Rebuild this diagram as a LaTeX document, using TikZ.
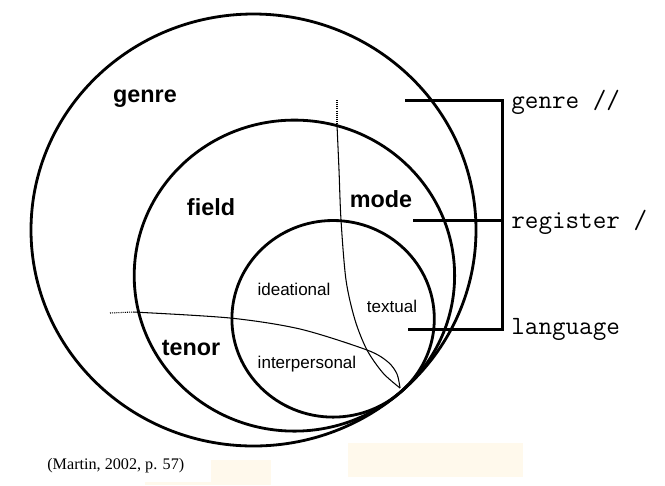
\documentclass[tikz,border=0pt]{standalone}
\usepackage{fontspec}
\setmainfont{Liberation Sans}
\newfontfamily\citefont{Liberation Serif}
\definecolor{cream}{HTML}{FFF9EC}
\tikzset{
  ring/.style={line width=1.6pt},
  divider/.style={line width=0.6pt},
  lead/.style={line width=0.6pt, dash pattern=on 0.6pt off 0.6pt},
  bracket/.style={line width=1.7pt},
  biglabel/.style={font=\fontsize{13.3}{15}\selectfont\bfseries, anchor=base, inner sep=0pt},
  smalllabel/.style={font=\fontsize{9.7}{11}\selectfont, anchor=base, inner sep=0pt},
  stratum/.style={font=\fontsize{15}{17}\selectfont\ttfamily, anchor=base west, inner sep=0pt},
}

\begin{document}
\begin{tikzpicture}[x=0.02cm, y=-0.02cm]
        \useasboundingbox (0,0) rectangle (665,485);
        % pale patches along the bottom edge
        \fill[cream] (348,443) rectangle (523,477);
        \fill[cream] (211,460) rectangle (271,485);
        \fill[cream] (145,482) rectangle (211,485);

        % genre, register, language
        \draw[ring] (253.5,230) ellipse [x radius=222.5, y radius=216];
        \draw[ring] (294.4,275.6) ellipse [x radius=160.2, y radius=155.5];
        \draw[ring] (333.1,318.8) ellipse [x radius=101.2, y radius=98.3];

        % metafunction boundaries
        \draw[lead] (337,100) -- (337,125);
        \draw[divider] plot[smooth] coordinates {(337,125) (339,170) (341,220) (346,280) (355,320) (367,350) (383,373) (400,388)};
        \draw[lead] (110,313) -- (133,312);
        \draw[divider] plot[smooth] coordinates {(133,312) (230,318) (300,329) (367,350) (388,362) (397,374) (400,388)};

        \node[biglabel] (genre) at (145,102) {genre};
        \node[biglabel] (field) at (211,215) {field};
        \node[biglabel] (mode) at (381,207) {mode};
        \node[biglabel] (tenor) at (191,355) {tenor};
        \node[smalllabel] (ideational) at (294,295) {ideational};
        \node[smalllabel] (textual) at (392,312) {textual};
        \node[smalllabel] (interpersonal) at (307,368) {interpersonal};

        \node[stratum] (genreS) at (511,108) {genre //};
        \node[stratum] (registerS) at (511,228) {register /};
        \node[stratum] (languageS) at (511,334) {language};

        \coordinate (gtip) at (405,100);
        \coordinate (rtip) at (413,220);
        \coordinate (ltip) at (408,329);
        \coordinate (gcorner) at (502,100);
        \coordinate (rcorner) at (502,220);
        \coordinate (lcorner) at (502,329);
        \draw[bracket] (gtip) -- (gcorner) -- (lcorner) -- (ltip);
        \draw[bracket] (rtip) -- (rcorner);

        \node[anchor=base west, inner sep=0pt, font=\citefont\fontsize{9.2}{11}\selectfont] (source) at (47,469) {(Martin, 2002, p. 57)};
\end{tikzpicture}
\end{document}
